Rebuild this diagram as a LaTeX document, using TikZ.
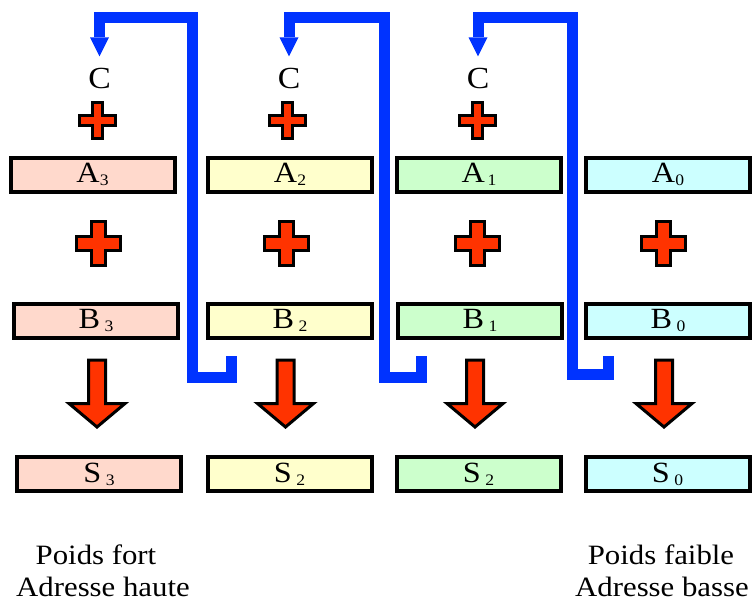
\documentclass[tikz,border=0pt]{standalone}
\usepackage{fontspec}
\setmainfont{Liberation Serif}[FakeStretch=1.1]
\usetikzlibrary{arrows.meta}
\usetikzlibrary{calc}
\definecolor{pinkbox}{RGB}{255,217,204}
\definecolor{yellowbox}{RGB}{255,255,204}
\definecolor{greenbox}{RGB}{204,255,204}
\definecolor{cyanbox}{RGB}{204,255,255}
\definecolor{signred}{RGB}{255,51,0}
\definecolor{carryblue}{RGB}{0,51,255}
\newcommand{\SubIdx}[1]{\raisebox{-2.25pt}{\fontsize{12}{12}\selectfont #1}}
% x, y, half size, half arm
\newcommand{\PlusSign}[4]{\draw[plussign,shift={(#1,#2)}] (-#4,-#3) -- (#4,-#3) -- (#4,-#4) -- (#3,-#4) -- (#3,#4) -- (#4,#4) -- (#4,#3) -- (-#4,#3) -- (-#4,#4) -- (-#3,#4) -- (-#3,-#4) -- (-#4,-#4) -- cycle;}
% operand box, sum box, shift of the arrow
\newcommand{\FatArrow}[3]{\draw[fatarrow] ($(#1.south -| #2.north)+(#3-8.5,20.5)$) -- ($(#2.north)+(#3-8.5,-51.5)$) -- ($(#2.north)+(#3-28,-51.5)$) -- ($(#2.north)+(#3,-28)$) -- ($(#2.north)+(#3+28,-51.5)$) -- ($(#2.north)+(#3+8.5,-51.5)$) -- ($(#1.south -| #2.north)+(#3+8.5,20.5)$) -- cycle;}

\begin{document}
\begin{tikzpicture}
[x=0.75pt,y=-0.75pt,
box/.style={draw=black,line width=3pt,minimum width=123pt,minimum
height=25.5pt,inner sep=0pt,font=\fontsize{22}{22}\selectfont},
carrylabel/.style={inner sep=8.25pt,font=\fontsize{23}{23}\selectfont},
caption/.style={inner sep=0pt,anchor=base,font=\fontsize{21}{21}\selectfont},
plussign/.style={draw=black,line width=2.25pt,fill=signred,line join=miter},
carry/.style={draw=carryblue,line width=8.25pt,line join=miter,
-{Triangle[length=14.25pt,width=14.25pt,line width=0pt]}},
fatarrow/.style={draw=black,line width=2.25pt,fill=signred,line join=miter}
]
\useasboundingbox (0,0) rectangle (756,601);
% carries coming in
\node [carrylabel] (C3) at (99.5,78) {C};
\node [carrylabel] (C2) at (289,78) {C};
\node [carrylabel] (C1) at (478,78) {C};
\PlusSign{97.5}{120}{18}{5}
\PlusSign{287}{120}{18}{5}
\PlusSign{477}{120}{18}{5}
% first operand
\node [box,fill=pinkbox] (A3) at (92.5,174.5) {A\SubIdx{3}};
\node [box,fill=yellowbox] (A2) at (290,174.5) {A\SubIdx{2}};
\node [box,fill=greenbox] (A1) at (479,174.5) {A\SubIdx{\,1}};
\node [box,fill=cyanbox] (A0) at (668,174.5) {A\SubIdx{0}};
\PlusSign{98}{243.5}{22}{7}
\PlusSign{286}{243.5}{22}{7}
\PlusSign{477}{243.5}{22}{7}
\PlusSign{663}{243.5}{22}{7}
% second operand
\node [box,fill=pinkbox] (B3) at (96,320.5) {B\SubIdx{\ 3}};
\node [box,fill=yellowbox] (B2) at (290,320.5) {B\SubIdx{\ 2}};
\node [box,fill=greenbox] (B1) at (480,320.5) {B\SubIdx{\ 1}};
\node [box,fill=cyanbox] (B0) at (668,320.5) {B\SubIdx{\ 0}};
% sum
\node [box,fill=pinkbox] (S3) at (99,474) {S\SubIdx{\ 3}};
\node [box,fill=yellowbox] (S2) at (289.5,474) {S\SubIdx{\ 2}};
\node [box,fill=greenbox] (S1) at (478.5,474) {S\SubIdx{\ 2}};
\node [box,fill=cyanbox] (S0) at (667.5,474) {S\SubIdx{\ 0}};
\FatArrow{B3}{S3}{-2}
\FatArrow{B2}{S2}{-4}
\FatArrow{B1}{S1}{-3.5}
\FatArrow{B0}{S0}{-3.5}
% carries going out
\coordinate (out2) at (231,356);
\coordinate (out1) at (421.5,356);
\coordinate (out0) at (608.5,356);
\draw [carry] (out2) |- (192.5,377) -- (192.5,17.5) -| (C3.north);
\draw [carry] (out1) |- (384.5,377.5) -- (384.5,17.5) -| (C2.north);
\draw [carry] (out0) |- (572,374) -- (572,17.5) -| (C1.north);
% weights
\node [caption] (fort) at (96,564) {Poids fort};
\node [caption] (haute) at (103,596) {Adresse haute};
\node [caption] (faible) at (661,564) {Poids faible};
\node [caption] (basse) at (662,596) {Adresse basse};
\end{tikzpicture}
\end{document}
